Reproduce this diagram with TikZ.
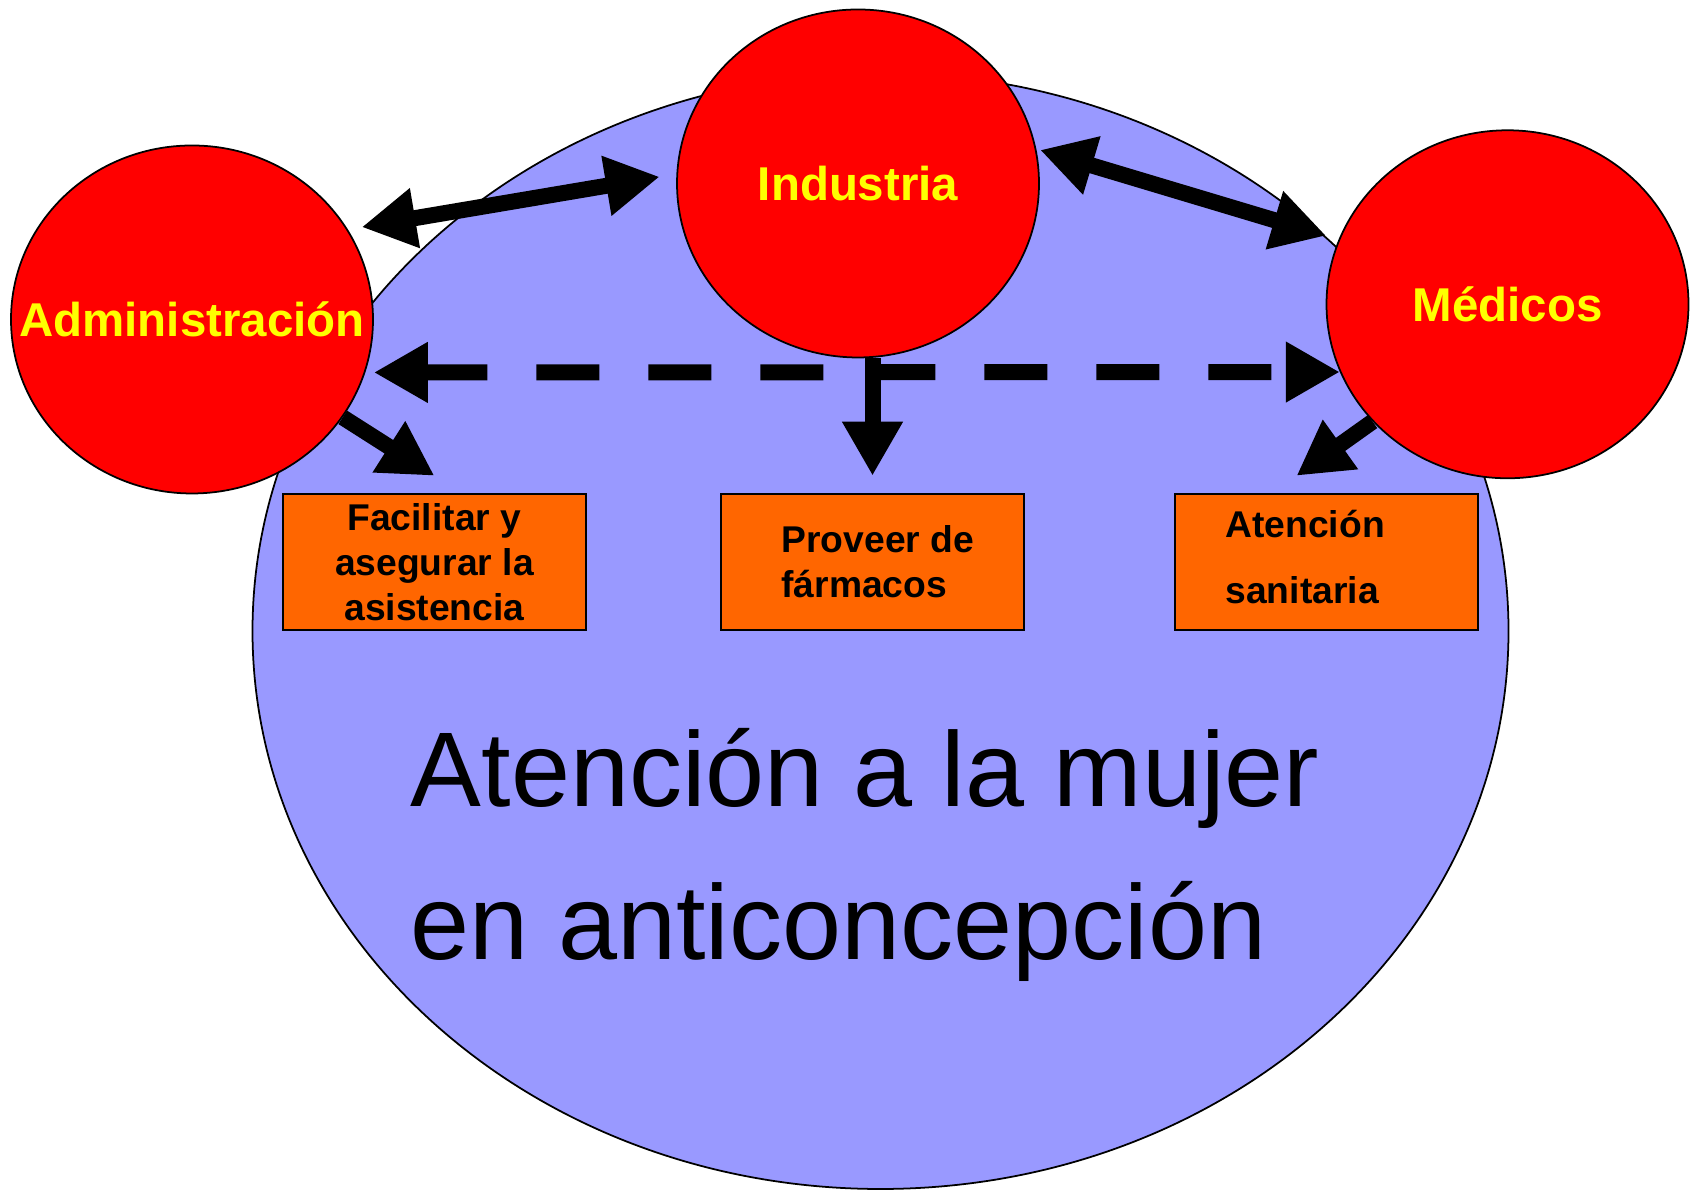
\documentclass[tikz,border=0pt]{standalone}
\usepackage{fontspec}
\setmainfont{Liberation Sans}
\usetikzlibrary{arrows.meta,shapes.geometric}

\definecolor{fondo}{HTML}{9999FF}
\definecolor{rojo}{HTML}{FF0000}
\definecolor{naranja}{HTML}{FF6600}
\definecolor{amarillo}{HTML}{FFFF00}

\begin{document}
\begin{tikzpicture}[
            actor/.style={ellipse, draw, line width=0.5pt, fill=rojo, inner sep=0pt,
                minimum width=3.62cm, minimum height=3.48cm},
            actortxt/.style={text=amarillo, inner sep=0pt, font=\fontsize{13.5}{16}\selectfont\bfseries},
            tarea/.style={rectangle, draw, line width=0.7pt, fill=naranja, inner sep=0pt,
                minimum width=3.03cm, minimum height=1.36cm},
            rotulo/.style={font=\fontsize{10.6}{12.75}\selectfont\bfseries, inner sep=0pt},
            lema/.style={font=\fontsize{30.2}{43.5}\selectfont, inner sep=0pt, anchor=base west},
            flecha/.style={line width=0.16cm, -{Triangle[length=0.54cm, width=0.57cm]}},
            biflecha/.style={line width=0.16cm,
                {Triangle[length=0.54cm, width=0.57cm]}-{Triangle[length=0.54cm, width=0.57cm]}}]
            \useasboundingbox (0,0) rectangle (16.92,11.90);

                % fondo
            \node[ellipse, draw, line width=0.5pt, fill=fondo, inner sep=0pt,
                minimum width=12.56cm, minimum height=11.16cm] (mujer) at (8.805,5.59) {};

                % actores
            \node[actor] (admin)     at (1.92, 8.705)  {};
            \node[actor] (industria) at (8.58, 10.065) {};
            \node[actor] (medicos)   at (15.075,8.857) {};
            \node[actortxt] (admintxt)     at (admin)     {Administración};
            \node[actortxt] (industriatxt) at (industria) {Industria};
            \node[actortxt] (medicostxt)   at (medicos)   {Médicos};

                % tareas
            \node[tarea, rotulo, align=center] (facilitar) at (4.344,6.28) {Facilitar y\\asegurar la\\asistencia};
            \node[tarea] (proveer)  at (8.725, 6.28) {};
            \node[tarea] (atencion) at (13.265,6.28) {};
            \node[rotulo, anchor=west, align=left] (proveertxt) at ([xshift=0.61cm]proveer.west) {Proveer de\\fármacos};
            \node[rotulo, anchor=west, align=left, font=\fontsize{10.6}{19}\selectfont\bfseries]
                (atenciontxt) at ([xshift=0.51cm,yshift=0.05cm]atencion.west) {Atención\\sanitaria};

            \node[lema] (lema1) at (4.10,3.83) {Atención a la mujer};
            \node[lema] (lema2) at (4.10,2.30) {en anticoncepción};

                % relaciones entre actores
            \draw[biflecha, shorten <=0.14cm, shorten >=0.17cm] (admin.30) -- (industria.177);
            \draw[biflecha, shorten <=0.04cm, shorten >=0.13cm] (industria.11) -- (medicos.159);
            \draw[biflecha, dash pattern=on 0.63cm off 0.49cm, shorten <=0.085cm] (admin.-17) -- (medicos.202);

                % actor -- tarea
            \draw[flecha] (proveer.north |- industria.south) -- ([yshift=0.17cm]proveer.north);
            \draw[flecha] (admin.-33) -- ([yshift=0.17cm]facilitar.north);
            \draw[flecha] (medicos.221) -- ([xshift=-0.3cm,yshift=0.17cm]atencion.north);
        \end{tikzpicture}
\end{document}
